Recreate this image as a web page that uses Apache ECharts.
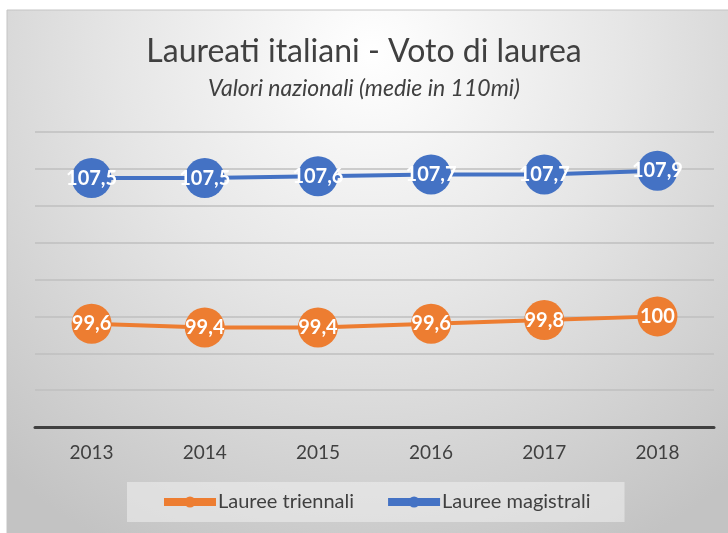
<!DOCTYPE html>
<html>
<head>
<meta charset="utf-8">
<script src="https://cdn.jsdelivr.net/npm/echarts@6/dist/echarts.min.js"></script>
<style>
  html, body { margin: 0; padding: 0; background: #fff; }
  #chart { width: 728px; height: 533px; }
</style>
</head>
<body>
<div id="chart"></div>
<script>
// dati
const anni = ['2013', '2014', '2015', '2016', '2017', '2018'];
const triennali = [99.6, 99.4, 99.4, 99.6, 99.8, 100];
const magistrali = [107.5, 107.5, 107.6, 107.7, 107.7, 107.9];

const FONT = 'Lato, "Open Sans", sans-serif';
const fmt = p => String(p.value).replace('.', ',');

const myChart = echarts.init(document.getElementById('chart'));

const option = {
  animation: false,
  graphic: [
    {
      type: 'rect',
      z: -10,
      shape: { x: 7, y: 10, width: 730, height: 530 },
      style: {
        fill: new echarts.graphic.RadialGradient(0.5, 0.08, 1.05, [
          { offset: 0, color: '#ffffff' },
          { offset: 0.45, color: '#e6e6e6' },
          { offset: 1, color: '#c3c3c3' }
        ]),
        stroke: '#c4c4c4',
        lineWidth: 1
      }
    }
  ],
  title: {
    text: 'Laureati italiani - Voto di laurea',
    subtext: 'Valori nazionali (medie in 110mi)',
    left: 'center',
    top: 31,
    itemGap: 9,
    textStyle: { fontFamily: FONT, fontSize: 32, fontWeight: 'normal', color: '#404040' },
    subtextStyle: { fontFamily: FONT, fontSize: 23, fontStyle: 'italic', color: '#404040' }
  },
  legend: {
    data: ['Lauree triennali', 'Lauree magistrali'],
    left: 127,
    top: 482,
    padding: [10, 34, 10, 33],
    itemGap: 30,
    itemWidth: 52,
    itemHeight: 14,
    lineStyle: { width: 8 },
    backgroundColor: 'rgba(240,240,240,0.55)',
    textStyle: { fontFamily: FONT, fontSize: 20, color: '#404040', padding: [0, 0, 0, -3] }
  },
  grid: { left: 35, right: 14, top: 132, bottom: 106 },
  xAxis: {
    type: 'category',
    data: anni,
    boundaryGap: true,
    axisLine: { lineStyle: { color: '#404040', width: 3 } },
    axisTick: { show: false },
    axisLabel: { fontFamily: FONT, fontSize: 19, color: '#404040', margin: 16 }
  },
  yAxis: {
    type: 'value',
    min: 94,
    max: 110,
    interval: 2,
    axisLabel: { show: false },
    axisLine: { show: false },
    axisTick: { show: false },
    splitLine: { lineStyle: { color: '#bfbfbf', width: 1.5 } }
  },
  series: [
    {
      name: 'Lauree triennali',
      type: 'line',
      data: triennali,
      color: '#ED7D31',
      symbol: 'circle',
      symbolSize: 40,
      lineStyle: { width: 4 },
      label: {
        show: true,
        position: 'inside',
        formatter: fmt,
        color: '#fff',
        fontFamily: FONT,
        fontSize: 20,
        fontWeight: 'bold'
      }
    },
    {
      name: 'Lauree magistrali',
      type: 'line',
      data: magistrali,
      color: '#4472C4',
      symbol: 'circle',
      symbolSize: 40,
      lineStyle: { width: 4 },
      label: {
        show: true,
        position: 'inside',
        formatter: fmt,
        color: '#fff',
        fontFamily: FONT,
        fontSize: 20,
        fontWeight: 'bold'
      }
    }
  ]
};

myChart.setOption(option);
</script>
</body>
</html>
